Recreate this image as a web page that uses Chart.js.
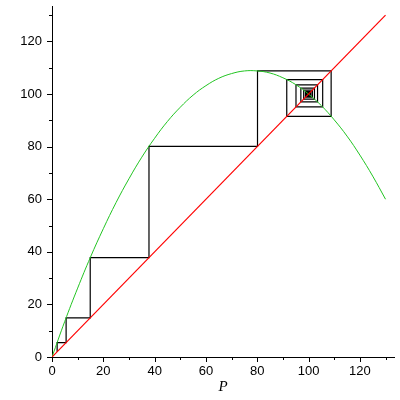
<!DOCTYPE html>
<html>
<head>
<meta charset="utf-8">
<script src="https://cdn.jsdelivr.net/npm/chart.js@4/dist/chart.umd.min.js"></script>
<style>
  html, body { margin: 0; padding: 0; background: #fff; }
  #wrap { width: 400px; height: 400px; }
</style>
</head>
<body>
<div id="wrap"><canvas id="cobweb"></canvas></div>
<script>
// values
const curveP = [0, 5, 10, 15, 20, 25, 30, 35, 40, 45, 50, 55, 60, 65, 70, 75, 80, 85, 90, 95, 100, 105, 110, 115, 120, 125, 130];
const curveF = [0, 13.6, 26.2, 38, 48.8, 58.8, 67.8, 76, 83.2, 89.6, 95, 99.6, 103.2, 106, 107.8, 108.8, 108.8, 108, 106.2, 103.6, 100, 95.6, 90.2, 84, 76.8, 68.8, 60];
const diagonal = [0, 130];
const iterates = [2, 5.5, 14.9, 37.8, 80.1, 108.8, 91.5, 105.5, 95.1, 103.5, 97.0, 102.3, 98.1, 101.5, 98.8, 100.9, 99.2, 100.6, 99.5, 100.4, 99.7, 100.3, 99.8, 100.2];
const tickValues = [0, 10, 20, 30, 40, 50, 60, 70, 80, 90, 100, 110, 120, 130];

// cobweb path: (x0,x0) -> (x0,x1) -> (x1,x1) -> (x1,x2) ...
let web = [{ x: iterates[0], y: iterates[0] }];
for (let i = 0; i < iterates.length - 1; i++) {
  web.push({ x: iterates[i], y: iterates[i + 1] });
  web.push({ x: iterates[i + 1], y: iterates[i + 1] });
}

const tickMarks = {
  id: "tickMarks",
  afterDraw(chart) {
    const ctx = chart.ctx;
    const xs = chart.scales.x, ys = chart.scales.y;
    const area = chart.chartArea;
    ctx.save();
    ctx.strokeStyle = "#000";
    ctx.lineWidth = 1;
    ctx.beginPath();
    tickValues.forEach(v => {
      const len = v % 20 === 0 ? 5 : 3;
      const px = Math.round(xs.getPixelForValue(v)) + 0.5;
      ctx.moveTo(px, area.bottom);
      ctx.lineTo(px, area.bottom + len);
      const py = Math.round(ys.getPixelForValue(v)) + 0.5;
      ctx.moveTo(area.left, py);
      ctx.lineTo(area.left - len, py);
    });
    ctx.stroke();
    ctx.restore();
  }
};

const noPad = scale => {
  scale.paddingTop = 0;
  scale.paddingBottom = 0;
  scale.paddingLeft = 0;
  scale.paddingRight = 0;
};

new Chart(document.getElementById("cobweb"), {
  type: "scatter",
  data: {
    datasets: [
      {
        data: diagonal.map(v => ({ x: v, y: v })),
        showLine: true,
        borderColor: "#ff0000",
        borderWidth: 1.2,
        pointRadius: 0,
        order: 0
      },
      {
        data: curveP.map((p, i) => ({ x: p, y: curveF[i] })),
        showLine: true,
        borderColor: "#22c422",
        borderWidth: 1,
        tension: 0.4,
        pointRadius: 0,
        order: 1
      },
      {
        data: web,
        showLine: true,
        borderColor: "#000000",
        borderWidth: 1.2,
        pointRadius: 0,
        order: 2
      }
    ]
  },
  plugins: [tickMarks],
  options: {
    responsive: true,
    maintainAspectRatio: false,
    animation: false,
    layout: { padding: { top: 6, right: 6, left: 0, bottom: 0 } },
    plugins: {
      legend: { display: false },
      tooltip: { enabled: false }
    },
    scales: {
      x: {
        type: "linear",
        min: 0,
        max: 133.3,
        afterFit: scale => { scale.height = 43; noPad(scale); },
        grid: { drawOnChartArea: false, drawTicks: false },
        border: { color: "#000", width: 1 },
        ticks: {
          stepSize: 20,
          includeBounds: false,
          maxRotation: 0,
          padding: 7,
          color: "#000",
          font: { family: "Liberation Sans", size: 13 }
        },
        title: {
          display: true,
          text: "P",
          color: "#000",
          padding: { top: 0, bottom: 4 },
          font: { family: "Liberation Serif", size: 15, style: "italic" }
        }
      },
      y: {
        type: "linear",
        min: 0,
        max: 133.5,
        afterFit: scale => { scale.width = 52; noPad(scale); },
        grid: { drawOnChartArea: false, drawTicks: false },
        border: { color: "#000", width: 1 },
        ticks: {
          stepSize: 20,
          includeBounds: false,
          padding: 10,
          color: "#000",
          font: { family: "Liberation Sans", size: 13 }
        }
      }
    }
  }
});
</script>
</body>
</html>
